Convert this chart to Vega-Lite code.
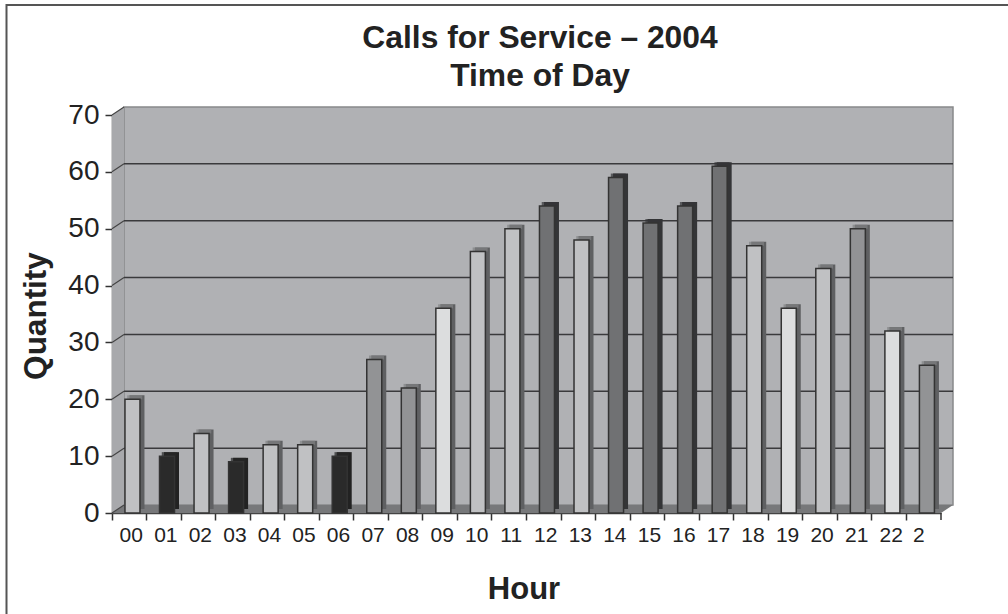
{
"$schema":"https://vega.github.io/schema/vega-lite/v6.json",
"width":829,"height":398,
"padding":{"left":124,"top":107,"right":55,"bottom":109},
"autosize":{"type":"none"},
"background":"white",
"config":{"view":{"fill":"#b0b1b4","stroke":"#88898b","strokeWidth":1.5},"font":"Liberation Sans"},
"title":{"text":["Calls for Service – 2004","Time of Day"],"font":"Liberation Sans","fontSize":31.8,"fontWeight":"bold","color":"#222222","anchor":"middle","dx":1.5,"lineHeight":38,"offset":-89,"frame":"group"},
"datasets":{
"hours":[
{"hour":"00","calls":20,"tone":"light"},{"hour":"01","calls":10,"tone":"black"},{"hour":"02","calls":14,"tone":"light"},{"hour":"03","calls":9,"tone":"black"},{"hour":"04","calls":12,"tone":"light"},{"hour":"05","calls":12,"tone":"light"},{"hour":"06","calls":10,"tone":"black"},{"hour":"07","calls":27,"tone":"mid"},{"hour":"08","calls":22,"tone":"mid"},{"hour":"09","calls":36,"tone":"pale"},{"hour":"10","calls":46,"tone":"light"},{"hour":"11","calls":50,"tone":"light"},{"hour":"12","calls":54,"tone":"dark"},{"hour":"13","calls":48,"tone":"light"},{"hour":"14","calls":59,"tone":"dark"},{"hour":"15","calls":51,"tone":"dark"},{"hour":"16","calls":54,"tone":"dark"},{"hour":"17","calls":61,"tone":"dark"},{"hour":"18","calls":47,"tone":"light"},{"hour":"19","calls":36,"tone":"pale"},{"hour":"20","calls":43,"tone":"light"},{"hour":"21","calls":50,"tone":"mid"},{"hour":"22","calls":32,"tone":"pale"},{"hour":"23","calls":26,"tone":"mid"}],
"levels":[{"level":0},{"level":10},{"level":20},{"level":30},{"level":40},{"level":50},{"level":60},{"level":70}],
"side":[{"d":-12,"top":68.59,"bottom":-1.41},{"d":0,"top":70,"bottom":0}],
"floor":[{"d":-12,"top":-1.41,"bottom":-1.41},{"d":0,"top":0,"bottom":-1.41},{"d":817,"top":0,"bottom":-1.41},{"d":829,"top":0,"bottom":0}],
"frame":[{"x1":-117.5,"x2":900,"y1":87.94,"y2":-30}]
},
"resolve":{"scale":{"x":"independent"}},
"layer":[
{"layer":[
{"data":{"name":"frame"},"mark":{"type":"rect","fill":null,"stroke":"#555555","strokeWidth":2,"clip":false},
 "encoding":{"x":{"field":"x1","type":"quantitative","scale":{"domain":[0,829],"nice":false,"zero":false},"axis":null},"x2":{"field":"x2"},"y":{"field":"y1","type":"quantitative","scale":{"domain":[0,70],"nice":false},"axis":{"values":[0,10,20,30,40,50,60,70],"grid":false,"title":"Quantity","titleFont":"Liberation Sans","titleFontSize":31.5,"titleFontWeight":"bold","titleColor":"#222222","titlePadding":15,"titleY":200.5,"labelFont":"Liberation Sans","labelFontSize":28,"labelColor":"#222222","labelPadding":6,"tickSize":7,"tickColor":"#333333","tickWidth":1.5,"domainColor":"#444444","domainWidth":1.5,"translate":8.5,"offset":20}},"y2":{"field":"y2"}}},
{"data":{"name":"side"},"mark":{"type":"area","fill":"#a8a9ac","clip":false},
 "encoding":{"x":{"field":"d","type":"quantitative"},"y":{"field":"top","type":"quantitative"},"y2":{"field":"bottom"}}},
{"data":{"name":"floor"},"mark":{"type":"area","fill":"#77787a","clip":false},
 "encoding":{"x":{"field":"d","type":"quantitative"},"y":{"field":"top","type":"quantitative"},"y2":{"field":"bottom"}}},
{"data":{"name":"levels"},"transform":[{"filter":"datum.level>0 && datum.level<70"}],"mark":{"type":"rule","color":"#3a3a3c","strokeWidth":1.5},
 "encoding":{"y":{"field":"level","type":"quantitative"}}},
{"data":{"name":"levels"},"mark":{"type":"rule","color":"#444444","strokeWidth":1.2,"yOffset":8,"y2Offset":0,"clip":false},
 "encoding":{"x":{"datum":-12},"x2":{"datum":0},"y":{"field":"level","type":"quantitative"},"y2":{"field":"level"}}}
]},
{"data":{"name":"hours"},"layer":[
{"mark":{"type":"bar","size":15,"xOffset":-4.3,"x2Offset":-4.3,"yOffset":4,"y2Offset":4,"clip":false},
 "encoding":{"x":{"field":"hour","type":"nominal","scale":{"paddingInner":0,"paddingOuter":0},"axis":{"orient":"bottom","bandPosition":0,"title":"Hour","titleFont":"Liberation Sans","titleFontSize":31,"titleFontWeight":"bold","titleColor":"#222222","titlePadding":29,"titleX":411.5,"labelAngle":0,"labelFont":"Liberation Sans","labelFontSize":21,"labelColor":"#222222","labelOffset":{"condition":{"test":"datum.value==='23'","value":-5},"value":2},"labelPadding":4,"tickSize":7,"tickColor":"#333333","tickWidth":1.5,"domainColor":"#444444","domainWidth":1.5,"translate":-11.5,"offset":20,"labelExpr":"datum.value==='23' ? '2' : datum.value"}},
 "y":{"field":"calls","type":"quantitative"},
 "color":{"condition":[{"test":"datum.tone==='black'","value":"#222222"},{"test":"datum.tone==='dark'","value":"#343537"}],"value":"#5f6062"}}},
{"mark":{"type":"tick","size":15,"thickness":4,"xOffset":-6.55,"yOffset":6,"clip":false},
 "encoding":{"x":{"field":"hour","type":"nominal"},"y":{"field":"calls","type":"quantitative"},
 "color":{"condition":[{"test":"datum.tone==='black'","value":"#262626"},{"test":"datum.tone==='dark'","value":"#343537"}],"value":"#808183"}}},
{"mark":{"type":"bar","size":15,"xOffset":-8.8,"x2Offset":-8.8,"yOffset":8,"y2Offset":8,"stroke":"#333333","strokeWidth":1.5,"clip":false},
 "encoding":{"x":{"field":"hour","type":"nominal"},"y":{"field":"calls","type":"quantitative"},
 "color":{"field":"tone","type":"nominal","legend":null,"scale":{"domain":["black","dark","mid","light","pale"],"range":["#2a2a2a","#707173","#929395","#c0c1c3","#dcddde"]}}}},
{"mark":{"type":"rule","color":"#333333","strokeWidth":1.5,"xOffset":-12,"x2Offset":-12,"yOffset":8,"y2Offset":15,"clip":false},
 "transform":[{"filter":"datum.hour==='23'"}],
 "encoding":{"x":{"field":"hour","type":"nominal","bandPosition":1},"y":{"datum":0},"y2":{"datum":0}}}
]}
]
}
